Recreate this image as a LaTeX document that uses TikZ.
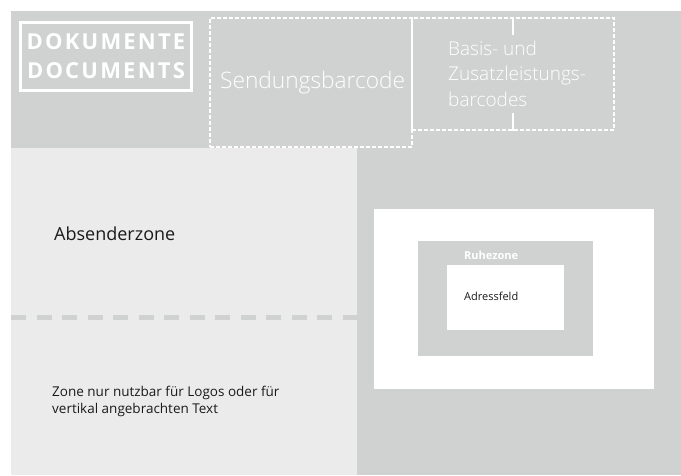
\documentclass[tikz,border=0pt]{standalone}
\usepackage{fontspec}
\setmainfont{Open Sans}
\newfontfamily\lightfont{Open Sans Light}
\usetikzlibrary{positioning}
\definecolor{bandGray}{HTML}{D0D1D1}
\definecolor{paleGray}{HTML}{EBEBEB}
\definecolor{inkBlack}{HTML}{1A1A1A}

\begin{document}
\begin{tikzpicture}[
    x=1pt, y=-1pt,
    zoneLabel/.style={anchor=base west, inner sep=0pt, text=inkBlack, align=left},
    codeLabel/.style={anchor=base west, inner sep=0pt, text=white, align=left},
    codeBox/.style={rectangle, draw=white, line width=1.3pt, dash pattern=on 4pt off 2pt, inner sep=0pt},
    plainBox/.style={rectangle, draw=none, inner sep=0pt}
]
\useasboundingbox (0,0) rectangle (681,475);

% zones of the sheet
\fill[bandGray] (11,11) rectangle (681,475);
\fill[paleGray] (11,148) rectangle (357,475);
\draw[bandGray, line width=5pt, dash pattern=on 15pt off 10.5pt] (11,317) -- (357,317);

% header
\node[rectangle, draw=white, line width=2.8pt, minimum width=171, minimum height=68,
      text=white, align=center, font=\bfseries\addfontfeatures{LetterSpace=10}\fontsize{22}{29}\selectfont]
      (docs) at (106,56.5) {DOKUMENTE\\DOCUMENTS};

\node[codeBox, minimum width=202, minimum height=129] (sendung) at (311,82.5) {};
\node[codeBox, minimum width=202, minimum height=112] (basis) at (513,74) {};
\draw[white, line width=1.3pt] (basis.north west) -- (basis.south west);
\coordinate (tickTop) at (513,35);
\coordinate (tickBottom) at (513,113);
\draw[white, line width=1.3pt] (basis.north) -- (tickTop);
\draw[white, line width=1.3pt] (tickBottom) -- (basis.south);

% multi-line labels sit on the baseline of their last line
\node[codeLabel, font=\lightfont\fontsize{22.7}{25}\selectfont] (sendungText) at (220,88) {Sendungsbarcode};
\node[codeLabel, font=\lightfont\fontsize{19}{25.5}\selectfont] (basisText) at (448,106)
      {Basis- und\\Zusatzleistungs-\\barcodes};

% sender side
\node[zoneLabel, font=\fontsize{18}{22}\selectfont] (absender) at (54,240) {Absenderzone};
\node[zoneLabel, font=\fontsize{13.5}{16.5}\selectfont] (logos) at (52,413)
      {Zone nur nutzbar für Logos oder für\\vertikal angebrachten Text};

% address side
\node[plainBox, fill=white, minimum width=280, minimum height=180] (adrZone) at (514,299) {};
\node[plainBox, fill=bandGray, minimum width=175, minimum height=115] (ruhe) at (505.5,298.5) {};
\node[plainBox, fill=white, minimum width=117, minimum height=65] (adresse) at (505.5,297.5) {};
\node[anchor=base west, inner sep=0pt, text=white, font=\bfseries\fontsize{11}{13}\selectfont] (ruheText) at (464,259) {Ruhezone};
\node[anchor=base west, inner sep=0pt, text=inkBlack, font=\fontsize{11}{13}\selectfont] (adresseText) at (464,300) {Adressfeld};

\end{tikzpicture}
\end{document}
